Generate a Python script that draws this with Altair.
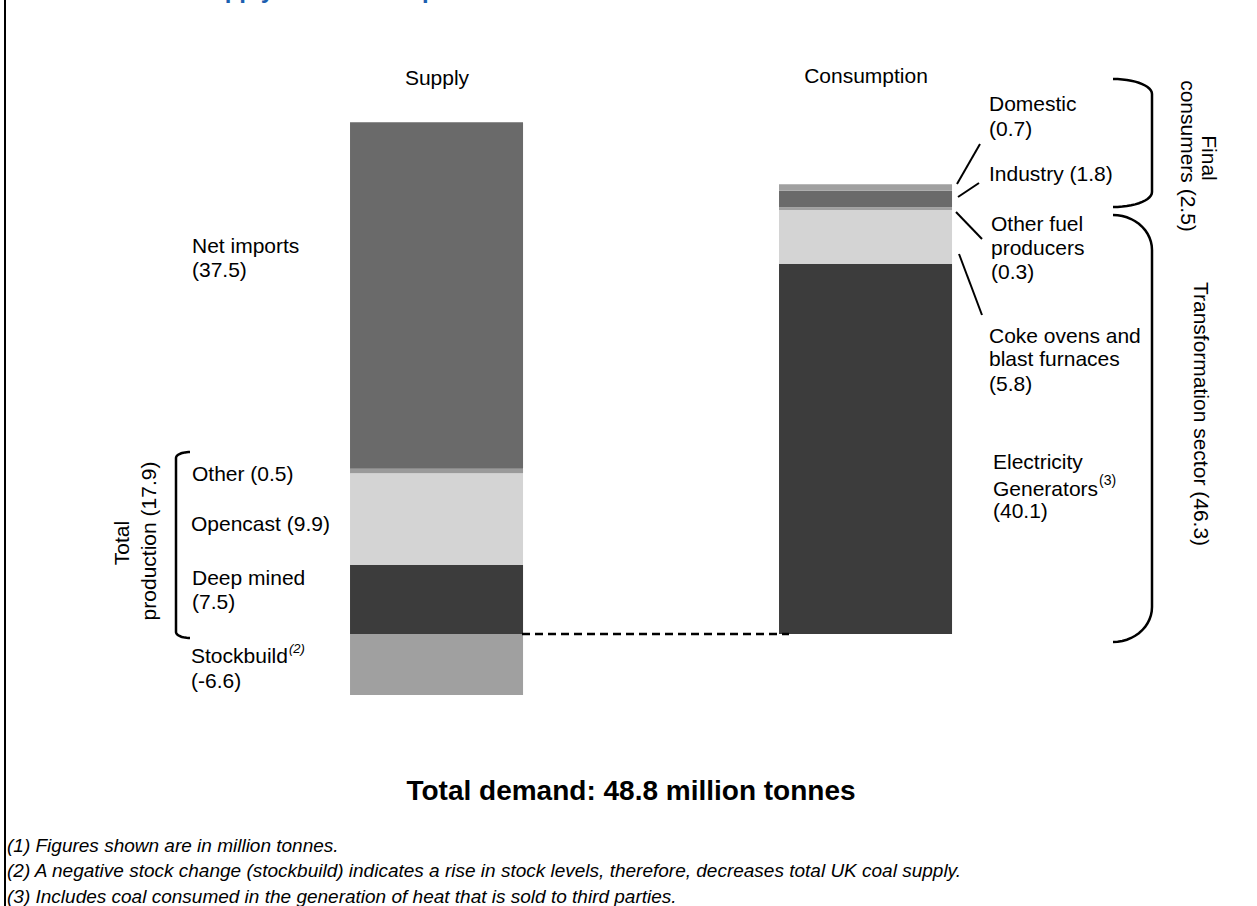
import altair as alt
import pandas as pd
import numpy as np

# ---------------- data ----------------
sides = ["Supply", "Consumption"]
supply_items = ["Stockbuild", "Deep mined", "Opencast", "Other", "Net imports"]
supply_values = [-6.6, 7.5, 9.9, 0.5, 37.5]
consumption_items = ["Electricity generators", "Coke ovens and blast furnaces",
                     "Other fuel producers", "Industry", "Domestic"]
consumption_values = [40.1, 5.8, 0.3, 1.8, 0.7]
total_production = 17.9
final_consumers = 2.5
transformation_sector = 46.3
total_demand = 48.8

# ---------------- styles ----------------
item_colors = {
    "Stockbuild": "#a0a0a0", "Deep mined": "#3c3c3c", "Opencast": "#d4d4d4",
    "Other": "#9a9a9a", "Net imports": "#6a6a6a",
    "Electricity generators": "#3c3c3c", "Coke ovens and blast furnaces": "#d4d4d4",
    "Other fuel producers": "#a0a0a0", "Industry": "#6a6a6a", "Domestic": "#a0a0a0",
}
FONT = "Liberation Sans"
W, H = 1257, 906
LAB = 21

rows = []
for i, (it, v) in enumerate(zip(supply_items, supply_values)):
    rows.append({"side": "Supply", "item": it, "value": v, "order": i})
for i, (it, v) in enumerate(zip(consumption_items, consumption_values)):
    rows.append({"side": "Consumption", "item": it, "value": v, "order": i})
df = pd.DataFrame(rows)

all_items = list(item_colors.keys())
yscale = alt.Scale(domain=[-29.45, 68.645], nice=False, zero=False)

bars = alt.Chart(df).mark_bar(strokeWidth=0).encode(
    x=alt.X("side:N", axis=None,
            scale=alt.Scale(domain=sides, paddingInner=0.5967, paddingOuter=0.7634, align=0.5344)),
    y=alt.Y("value:Q", stack="zero", axis=None, scale=yscale),
    color=alt.Color("item:N", legend=None,
                    scale=alt.Scale(domain=all_items, range=[item_colors[k] for k in all_items])),
    order=alt.Order("order:Q", sort="ascending"),
)

one = alt.Data(values=[{"a": 1}])

zero_line = alt.Chart(one).mark_rule(color="black", strokeWidth=2.5, strokeDash=[8, 5]).encode(
    x=alt.value(522), x2=alt.value(789), y=alt.Y(datum=0, scale=yscale, axis=None)
)

main = alt.layer(bars, zero_line)


def label(text, x, y, size=LAB, align="left", angle=0, weight="normal", style="normal",
          color="black", baseline="middle"):
    kw = dict(text=text, align=align, baseline=baseline, font=FONT, fontSize=size,
              fontWeight=weight, fontStyle=style, color=color)
    if angle:
        kw["angle"] = angle
    return alt.Chart(one).mark_text(**kw).encode(x=alt.value(x), y=alt.value(y))


def seg(x1, y1, x2, y2, width=2.0):
    return alt.Chart(one).mark_rule(color="black", strokeWidth=width, strokeCap="butt").encode(
        x=alt.value(x1), y=alt.value(y1), x2=alt.value(x2), y2=alt.value(y2))


texts = [
    # cut-off title at the very top
    label("Coal supply and consumption", 138, -2, size=24, weight="bold",
          color="#1c5fb0", baseline="alphabetic"),
    label("Supply", 437, 79, align="center"),
    label("Consumption", 866, 77, align="center"),
    # supply side
    label("Net imports", 192, 247), label(f"({supply_values[4]})", 192, 271),
    label(f"Other ({supply_values[3]})", 192, 475),
    label(f"Opencast ({supply_values[2]})", 191, 525),
    label("Deep mined", 192, 579), label(f"({supply_values[1]})", 192, 603),
    label("Stockbuild", 191, 657), label("(2)", 289, 649, size=13, style="italic"),
    label(f"({supply_values[0]})", 191, 682),
    label("Total", 123, 543, align="center", angle=270),
    label(f"production ({total_production})", 150, 541, align="center", angle=270),
    # consumption side
    label("Domestic", 989, 105), label(f"({consumption_values[4]})", 989, 130),
    label(f"Industry ({consumption_values[3]})", 989, 175),
    label("Other fuel", 991, 225), label("producers", 991, 249),
    label(f"({consumption_values[2]})", 991, 273),
    label("Coke ovens and", 989, 337), label("blast furnaces", 989, 360),
    label(f"({consumption_values[1]})", 989, 385),
    label("Electricity", 993, 463), label("Generators", 993, 490),
    label("(3)", 1099, 481, size=14), label(f"({consumption_values[0]})", 993, 512),
    label("Final", 1208, 158, align="center", angle=90),
    label(f"consumers  ({final_consumers})", 1187, 156, align="center", angle=90),
    label(f"Transformation sector ({transformation_sector})", 1200, 414, align="center", angle=90),
    # bottom
    label(f"Total demand: {total_demand} million tonnes", 631, 792, size=28,
          align="center", weight="bold"),
    label("(1) Figures shown are in million tonnes.", 7, 846, size=19, style="italic"),
    label("(2) A negative stock change (stockbuild) indicates a rise in stock levels, "
          "therefore, decreases total UK coal supply.", 7, 871, size=19, style="italic"),
    label("(3) Includes coal consumed in the generation of heat that is sold to third parties.",
          7, 897, size=19, style="italic"),
]

leaders = [
    seg(957, 184, 980, 144), seg(958, 197, 979, 183),
    seg(956, 212, 982, 239), seg(959, 254, 982, 315),
    seg(5, 0, 5, H, width=2),  # frame line on the left
]


def brace_points(name, x_end, x_spine, y_top, y_bot, ry, n=14):
    rx = x_spine - x_end
    pts = []
    k = 0
    for t in np.linspace(0, np.pi / 2, n):
        pts.append({"b": name, "i": k, "px": x_end + rx * np.sin(t), "py": y_top + ry * (1 - np.cos(t))})
        k += 1
    for t in np.linspace(np.pi / 2, 0, n):
        pts.append({"b": name, "i": k, "px": x_end + rx * np.sin(t), "py": y_bot - ry * (1 - np.cos(t))})
        k += 1
    return pts


bdf = pd.DataFrame(
    brace_points("final", 1113, 1152, 79, 207, 15)
    + brace_points("transf", 1113, 1152, 215, 642, 35)
    + brace_points("prod", 190, 176, 452, 638, 6)
)
braces = alt.Chart(bdf).mark_line(color="black", strokeWidth=2.5, strokeCap="butt").encode(
    x=alt.X("px:Q", scale=None, axis=None),
    y=alt.Y("py:Q", scale=None, axis=None),
    detail="b:N",
    order="i:Q",
)

chart = alt.layer(main, braces, *leaders, *texts).resolve_scale(
    x="independent", y="independent"
).properties(
    width=W, height=H, padding=0, autosize=alt.AutoSizeParams(type="none"),
    background="white",
).configure_view(stroke=None)

chart.save("out.html", embed_options={"renderer": "svg", "actions": False})
